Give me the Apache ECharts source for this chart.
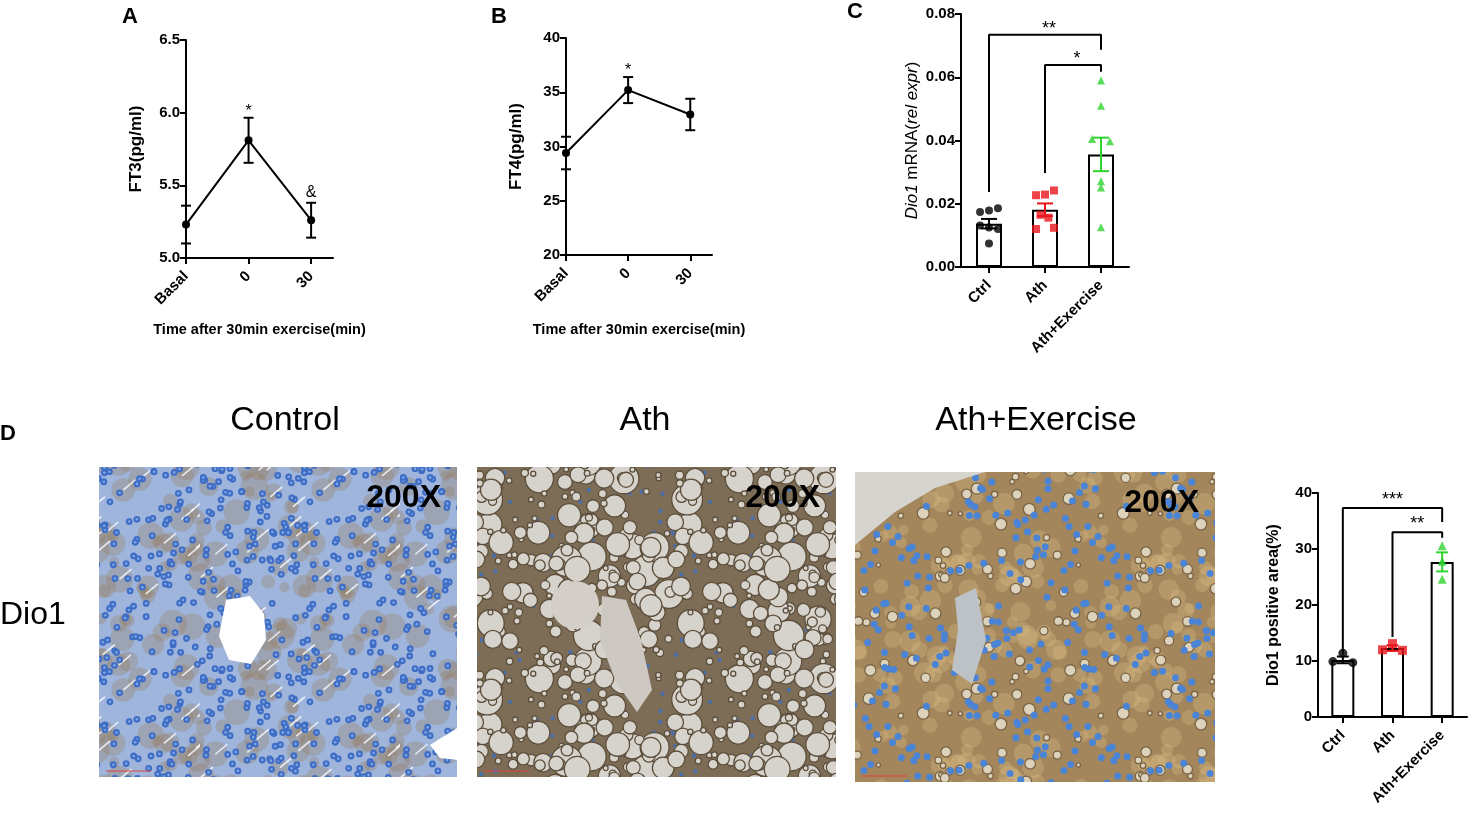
<!DOCTYPE html>
<html>
<head>
<meta charset="utf-8">
<script src="https://cdn.jsdelivr.net/npm/echarts@6.0.0/dist/echarts.min.js"></script>
<style>
html, body { margin: 0; padding: 0; background: #fff; }
#chart { width: 1476px; height: 824px; }
</style>
</head>
<body>
<div id="chart"></div>
<script>
// panel A / B : time course
var timeLabels = ['Basal', '0', '30'];
var ft3Mean = [5.23, 5.81, 5.26];
var ft3Sem = [0.13, 0.155, 0.12];
var ft4Mean = [29.4, 35.2, 32.95];
var ft4Sem = [1.5, 1.2, 1.45];

// panel C : Dio1 mRNA
var groups = ['Ctrl', 'Ath', 'Ath+Exercise'];
var mrnaMean = [0.0137, 0.0181, 0.0356];
var mrnaSem = [0.0015, 0.002, 0.0053];
var mrnaCtrl = [0.0174, 0.0179, 0.0186, 0.0131, 0.0125, 0.0120, 0.0074];
var mrnaAth = [0.0227, 0.0229, 0.0242, 0.0165, 0.0156, 0.0120, 0.0124];
var mrnaAthEx = [0.0590, 0.0510, 0.0405, 0.0398, 0.0271, 0.0251, 0.0126];

// panel D : Dio1 positive area
var areaMean = [10.2, 12.3, 27.7];
var areaSem = [0.6, 0.5, 1.7];
var areaCtrl = [11.4, 9.9, 9.7];
var areaAth = [13.1, 12.0, 11.9];
var areaAthEx = [30.6, 27.8, 24.6];

// significance marks [x, y, text] and brackets
var sigA = [[1, 6.005, '*'], [2, 5.447, '&']];
var sigB = [[1, 36.96, '*']];
var sigC = [[1.07, 0.0753, '**'], [1.57, 0.0658, '*']];
var sigD = [[1, 38.75, '***'], [1.5, 34.5, '**']];
var bracketC = [
	[[0, 0.0237], [0, 0.0734], [2, 0.0734], [2, 0.0687]],
	[[1, 0.0297], [1, 0.0639], [2, 0.0639], [2, 0.0617]]
];
var bracketD = [
	[[0, 11.1], [0, 37.3], [2, 37.3], [2, 34.8]],
	[[1, 14.3], [1, 33.0], [2, 33.0], [2, 32.0]]
];
var panelNames = ['Control', 'Ath', 'Ath+Exercise'];

var FONT = 'Liberation Sans, Arial, sans-serif';
var groupColors = ['#000000', '#e8141b', '#2fd32f'];
var groupSymbols = ['circle', 'rect', 'triangle'];
// horizontal jitter of the dots (layout only)
var jitC = [[-0.16, 0, 0.16, -0.16, 0, 0.16, 0], [-0.16, 0, 0.16, -0.08, 0.06, -0.16, 0.16], [0, 0, -0.16, 0.16, 0, 0, 0]];
var jitD = [[0, -0.2, 0.2], [0, -0.2, 0.2], [0, 0, 0]];

var myChart = echarts.init(document.getElementById('chart'));

var lineStyleBlack = { color: '#000', width: 2 };

function yAxisCfg(grid, min, max, interval, digits, name, nameGap, nameStyle) {
	return {
		type: 'value', gridIndex: grid, min: min, max: max, interval: interval,
		name: name, nameLocation: 'middle', nameGap: nameGap,
		nameTextStyle: nameStyle,
		axisLine: { show: true, onZero: false, lineStyle: lineStyleBlack },
		axisTick: { show: true, length: 6, lineStyle: lineStyleBlack },
		axisLabel: {
			color: '#000', fontSize: 15, fontWeight: 'bold', fontFamily: FONT, margin: 6,
			formatter: function(v) { return v.toFixed(digits); }
		},
		splitLine: { show: false }
	};
}

function xAxisCfg(grid, min, max, labels, name, nameGap, margin) {
	return {
		type: 'value', gridIndex: grid, min: min, max: max,
		name: name, nameLocation: 'middle', nameGap: nameGap,
		nameTextStyle: { color: '#000', fontSize: 14.5, fontWeight: 'bold', fontFamily: FONT },
		axisLine: { show: true, onZero: false, lineStyle: lineStyleBlack },
		axisTick: { show: true, length: 6, lineStyle: lineStyleBlack, customValues: [0, 1, 2] },
		axisLabel: {
			customValues: [0, 1, 2], rotate: 45, margin: margin,
			color: '#000', fontSize: 15, fontWeight: 'bold', fontFamily: FONT,
			formatter: function(v) { return labels[Math.round(v)]; }
		},
		splitLine: { show: false }
	};
}

// error bar: value = [x, low, high]
function errorBars(grid, data, capHalf, colors) {
	return {
		type: 'custom', xAxisIndex: grid, yAxisIndex: grid, z: 5,
		data: data,
		renderItem: function(params, api) {
			var lo = api.coord([api.value(0), api.value(1)]);
			var hi = api.coord([api.value(0), api.value(2)]);
			var st = { stroke: colors[params.dataIndex], lineWidth: 2 };
			return {
				type: 'group',
				children: [
					{ type: 'line', shape: { x1: lo[0], y1: lo[1], x2: hi[0], y2: hi[1] }, style: st },
					{ type: 'line', shape: { x1: hi[0] - capHalf, y1: hi[1], x2: hi[0] + capHalf, y2: hi[1] }, style: st },
					{ type: 'line', shape: { x1: lo[0] - capHalf, y1: lo[1], x2: lo[0] + capHalf, y2: lo[1] }, style: st }
				]
			};
		}
	};
}

function sigText(grid, data, size) {
	return {
		type: 'custom', xAxisIndex: grid, yAxisIndex: grid, z: 6,
		data: data,
		renderItem: function(params, api) {
			var p = api.coord([api.value(0), api.value(1)]);
			return {
				type: 'text', x: p[0], y: p[1],
				style: {
					text: data[params.dataIndex][2], fill: '#000',
					font: size + 'px ' + FONT, textAlign: 'center', textVerticalAlign: 'middle'
				}
			};
		}
	};
}

function errData(mean, sem) {
	return mean.map(function(m, i) { return [i, m - sem[i], m + sem[i]]; });
}

function dots(grid, vals, gi, jit, size) {
	return {
		type: 'scatter', xAxisIndex: grid, yAxisIndex: grid, z: 4,
		symbol: groupSymbols[gi], symbolSize: size,
		itemStyle: { color: groupColors[gi] },
		data: vals.map(function(v, i) { return [gi + jit[gi][i], v]; })
	};
}

function bracket(grid, pts) {
	return {
		type: 'line', xAxisIndex: grid, yAxisIndex: grid, z: 3,
		symbol: 'none', data: pts, lineStyle: lineStyleBlack, silent: true
	};
}

var series = [];
// A
series.push({
	type: 'line', xAxisIndex: 0, yAxisIndex: 0, symbol: 'circle', symbolSize: 8,
	itemStyle: { color: '#000' }, lineStyle: lineStyleBlack,
	data: ft3Mean.map(function(v, i) { return [i, v]; })
});
series.push(errorBars(0, errData(ft3Mean, ft3Sem), 5, ['#000', '#000', '#000']));
series.push(sigText(0, sigA, 16));
// B
series.push({
	type: 'line', xAxisIndex: 1, yAxisIndex: 1, symbol: 'circle', symbolSize: 8,
	itemStyle: { color: '#000' }, lineStyle: lineStyleBlack,
	data: ft4Mean.map(function(v, i) { return [i, v]; })
});
series.push(errorBars(1, errData(ft4Mean, ft4Sem), 5, ['#000', '#000', '#000']));
series.push(sigText(1, sigB, 16));
// C
series.push({
	type: 'bar', xAxisIndex: 2, yAxisIndex: 2, barWidth: 26, z: 2,
	itemStyle: { color: '#fff', borderColor: '#000', borderWidth: 2 },
	data: mrnaMean.map(function(v, i) { return [i, v]; })
});
series.push(dots(2, mrnaCtrl, 0, jitC, 8));
series.push(dots(2, mrnaAth, 1, jitC, 8));
series.push(dots(2, mrnaAthEx, 2, jitC, 8));
series.push(errorBars(2, errData(mrnaMean, mrnaSem), 8, groupColors));
bracketC.forEach(function(b) { series.push(bracket(2, b)); });
series.push(sigText(2, sigC, 18));
// D
series.push({
	type: 'bar', xAxisIndex: 3, yAxisIndex: 3, barWidth: 23, z: 2,
	itemStyle: { color: '#fff', borderColor: '#000', borderWidth: 2 },
	data: areaMean.map(function(v, i) { return [i, v]; })
});
series.push(dots(3, areaCtrl, 0, jitD, 9));
series.push(dots(3, areaAth, 1, jitD, 9));
series.push(dots(3, areaAthEx, 2, jitD, 9));
series.push(errorBars(3, errData(areaMean, areaSem), 6, groupColors));
bracketD.forEach(function(b) { series.push(bracket(3, b)); });
series.push(sigText(3, sigD, 18));

// textures standing in for the stained sections (decoration, not data)
function hash(n) {
	var s = Math.sin(n * 12.9898 + 78.233) * 43758.5453;
	return s - Math.floor(s);
}
function makeTile(kind) {
	var S = 200;
	var c = document.createElement('canvas');
	c.width = S; c.height = S;
	var g = c.getContext('2d');
	var i, x, y, r, k = kind * 1000;
	function disc(x, y, r, fill, stroke) {
		for (var dx = -S; dx <= S; dx += S) {
			for (var dy = -S; dy <= S; dy += S) {
				g.beginPath();
				g.arc(x + dx, y + dy, r, 0, Math.PI * 2);
				g.fillStyle = fill;
				g.fill();
				if (stroke) { g.strokeStyle = stroke; g.lineWidth = 1.3; g.stroke(); }
			}
		}
	}
	if (kind === 0) {
		g.fillStyle = '#a0b5dc'; g.fillRect(0, 0, S, S);
		for (i = 0; i < 80; i++) disc(hash(k + i) * S, hash(k + i + 300) * S, 5 + hash(k + i + 600) * 9, 'rgba(150,122,85,0.30)');
		g.strokeStyle = 'rgba(255,255,255,0.8)'; g.lineWidth = 1.6;
		for (i = 0; i < 30; i++) {
			x = hash(k + i + 50) * S; y = hash(k + i + 350) * S;
			g.beginPath(); g.moveTo(x, y); g.lineTo(x + 12, y - 10); g.stroke();
		}
		for (i = 0; i < 210; i++) {
			x = hash(k + i + 900) * S; y = hash(k + i + 1200) * S;
			disc(x, y, 3.4, '#3e6dc6');
			disc(x, y, 1.3, '#80a4e2');
		}
	} else if (kind === 1) {
		g.fillStyle = '#7d6d56'; g.fillRect(0, 0, S, S);
		for (i = 0; i < 70; i++) disc(hash(k + i) * S, hash(k + i + 300) * S, 2.2, '#4d6fa8');
		for (i = 0; i < 190; i++) {
			r = 2.5 + Math.pow(hash(k + i + 600), 2.2) * 13;
			disc(hash(k + i + 900) * S, hash(k + i + 1200) * S, r, '#d6d3cc', '#5c4e3b');
		}
	} else {
		g.fillStyle = '#a4865c'; g.fillRect(0, 0, S, S);
		for (i = 0; i < 80; i++) disc(hash(k + i) * S, hash(k + i + 300) * S, 5 + hash(k + i + 600) * 6, 'rgba(215,185,130,0.35)');
		for (i = 0; i < 50; i++) disc(hash(k + i + 100) * S, hash(k + i + 400) * S, 2 + hash(k + i + 700) * 4, '#ddd2bb', '#7a6446');
		for (i = 0; i < 110; i++) disc(hash(k + i + 900) * S, hash(k + i + 1200) * S, 3.5, '#4a84d6');
	}
	return c;
}

var imgBoxes = [[99, 467, 358, 310], [477, 467, 359, 310], [855, 472, 360, 310]];
var graphics = [];
imgBoxes.forEach(function(b, k) {
	graphics.push({
		type: 'rect', shape: { x: b[0], y: b[1], width: b[2], height: b[3] },
		style: { fill: { image: makeTile(k), repeat: 'repeat' } }, z: 1
	});
});
// large structures in the sections
graphics.push({ type: 'polygon', z: 2, shape: { points: [[226, 600], [250, 596], [264, 614], [266, 640], [251, 664], [229, 660], [219, 636]] }, style: { fill: '#ffffff' } });
graphics.push({ type: 'polygon', z: 2, shape: { points: [[430, 745], [457, 728], [457, 760], [440, 758]] }, style: { fill: '#ffffff' } });
graphics.push({ type: 'polygon', z: 2, shape: { points: [[602, 596], [626, 600], [641, 640], [652, 690], [637, 712], [616, 682], [600, 640]] }, style: { fill: '#cdc9c2' } });
graphics.push({ type: 'circle', z: 2, shape: { cx: 575, cy: 605, r: 24 }, style: { fill: '#d3cfc8' } });
graphics.push({ type: 'polygon', z: 2, shape: { points: [[855, 472], [985, 472], [935, 488], [895, 512], [855, 545]] }, style: { fill: '#d6d4cf' } });
graphics.push({ type: 'polygon', z: 2, shape: { points: [[955, 598], [976, 588], [986, 640], [972, 684], [952, 670], [958, 630]] }, style: { fill: '#bcc2c6' } });
// scale bars and magnification
imgBoxes.forEach(function(b) {
	graphics.push({ type: 'line', z: 3, shape: { x1: b[0] + 7, y1: b[1] + b[3] - 6, x2: b[0] + 52, y2: b[1] + b[3] - 6 }, style: { stroke: '#e04040', lineWidth: 1 } });
	graphics.push({
		type: 'text', z: 3, x: b[0] + b[2] - 16, y: b[1] + 31,
		style: { text: '200X', fill: '#000', font: 'bold 32px ' + FONT, textAlign: 'right', textVerticalAlign: 'middle' }
	});
});
var titleX = [285, 645, 1036];
panelNames.forEach(function(n, k) {
	graphics.push({
		type: 'text', x: titleX[k], y: 421,
		style: { text: n, fill: '#000', font: '34px ' + FONT, textAlign: 'center', textVerticalAlign: 'middle' }
	});
});
graphics.push({ type: 'text', x: 0, y: 615, style: { text: 'Dio1', fill: '#000', font: '32px ' + FONT, textAlign: 'left', textVerticalAlign: 'middle' } });
var letters = [['A', 122, 17], ['B', 491, 17], ['C', 847, 12], ['D', 0, 434]];
letters.forEach(function(l) {
	graphics.push({ type: 'text', x: l[1], y: l[2], style: { text: l[0], fill: '#000', font: 'bold 22px ' + FONT, textAlign: 'left', textVerticalAlign: 'middle' } });
});

var titleBold = { color: '#000', fontSize: 17, fontWeight: 'bold', fontFamily: FONT };
var option = {
	backgroundColor: '#fff',
	animation: false,
	grid: [
		{ left: 186, top: 40, width: 147, height: 218 },
		{ left: 566, top: 38, width: 146, height: 217 },
		{ left: 961, top: 14, width: 168, height: 253 },
		{ left: 1318, top: 493, width: 149, height: 224 }
	],
	xAxis: [
		xAxisCfg(0, 0, 2.35, timeLabels, 'Time after 30min exercise(min)', 64, 16),
		xAxisCfg(1, 0, 2.35, timeLabels, 'Time after 30min exercise(min)', 67, 16),
		xAxisCfg(2, -0.5, 2.5, groups, '', 0, 16),
		xAxisCfg(3, -0.5, 2.5, groups, '', 0, 16)
	],
	yAxis: [
		yAxisCfg(0, 5, 6.5, 0.5, 1, 'FT3(pg/ml)', 41, titleBold),
		yAxisCfg(1, 20, 40, 5, 0, 'FT4(pg/ml)', 41, titleBold),
		yAxisCfg(2, 0, 0.08, 0.02, 2, '{i|Dio1} mRNA({i|rel expr})', 40, {
			color: '#000', fontSize: 17, fontFamily: FONT,
			rich: { i: { fontStyle: 'italic', fontSize: 17, fontFamily: FONT, color: '#000' } }
		}),
		yAxisCfg(3, 0, 40, 10, 0, 'Dio1 positive area(%)', 36, { color: '#000', fontSize: 16, fontWeight: 'bold', fontFamily: FONT })
	],
	series: series,
	graphic: { elements: graphics }
};

myChart.setOption(option);
window.onresize = function() {
	myChart.resize();
};
</script>
</body>
</html>
